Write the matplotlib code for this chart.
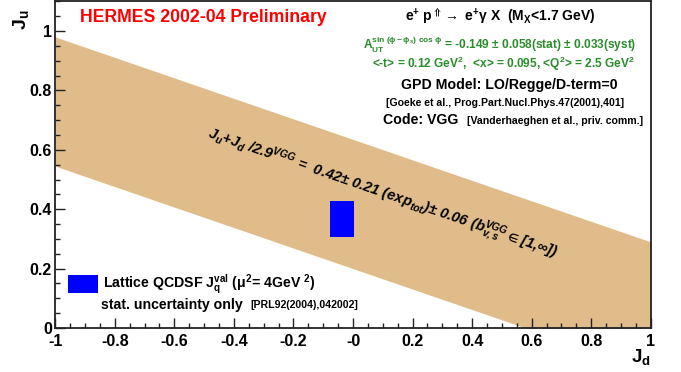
import matplotlib
matplotlib.use('Agg')
import matplotlib.pyplot as plt
from matplotlib.patches import Rectangle
from matplotlib.ticker import FixedLocator, MultipleLocator

plt.rcParams['font.family'] = ['Liberation Sans', 'DejaVu Sans']
plt.rcParams['font.weight'] = 'bold'
plt.rcParams['mathtext.fontset'] = 'custom'
plt.rcParams['mathtext.rm'] = 'Liberation Sans:bold'
plt.rcParams['mathtext.it'] = 'Liberation Sans:italic:bold'
plt.rcParams['mathtext.bf'] = 'Liberation Sans:bold'
plt.rcParams['mathtext.sf'] = 'Liberation Sans:bold'
plt.rcParams['mathtext.default'] = 'regular'

# ---- data ----
band_jd = [-1.0, 1.0]
band_upper = [0.98, 0.29]
band_lower = [0.545, -0.145]

lattice_jd = [-0.077, 0.002]
lattice_ju = [0.307, 0.429]

x_ticks = [-1.0, -0.8, -0.6, -0.4, -0.2, 0.0, 0.2, 0.4, 0.6, 0.8, 1.0]
x_ticklabels = ['-1', '-0.8', '-0.6', '-0.4', '-0.2', '-0', '0.2', '0.4', '0.6', '0.8', '1']
y_ticks = [0.0, 0.2, 0.4, 0.6, 0.8, 1.0]
y_ticklabels = ['0', '0.2', '0.4', '0.6', '0.8', '1']

W, H = 681, 372
AX_L, AX_R, AX_B, AX_T = 55.3, 650.7, 328.0, 1.3

fig = plt.figure(figsize=(W / 100, H / 100), dpi=100)
ax = fig.add_axes([AX_L / W, 1 - AX_B / H, (AX_R - AX_L) / W, (AX_B - AX_T) / H])

ax.fill_between(band_jd, band_lower, band_upper, color='#dfbc89', lw=0)
ax.add_patch(Rectangle((lattice_jd[0], lattice_ju[0]), lattice_jd[1] - lattice_jd[0],
                       lattice_ju[1] - lattice_ju[0], color='blue', lw=0))
ax.set_xlim(-1, 1)
ax.set_ylim(0, 1.1)

ax.xaxis.set_major_locator(FixedLocator(x_ticks))
ax.set_xticklabels(x_ticklabels)
ax.yaxis.set_major_locator(FixedLocator(y_ticks))
ax.set_yticklabels(y_ticklabels)
ax.xaxis.set_minor_locator(MultipleLocator(0.05))
ax.yaxis.set_minor_locator(MultipleLocator(0.05))
ax.tick_params(which='both', direction='in', top=False, right=False, width=1.0, color='#222222')
ax.tick_params(which='major', length=7.2, labelsize=11.5)
ax.tick_params(axis='x', which='major', pad=4)
ax.tick_params(axis='y', which='major', pad=2.5)
ax.tick_params(which='minor', length=3.6)
for lab in ax.get_xticklabels() + ax.get_yticklabels():
    lab.set_fontweight('bold')
for s in ax.spines.values():
    s.set_linewidth(1.3)
    s.set_color('#222222')


def P(px, py):
    return ((px - AX_L) / (AX_R - AX_L), (AX_B - py) / (AX_B - AX_T))


def T(px, py, s, **kw):
    kw.setdefault('transform', ax.transAxes)
    kw.setdefault('va', 'center')
    kw.setdefault('fontweight', 'bold')
    x, y = P(px, py)
    return ax.text(x, y, s, **kw)


T(80, 17, 'HERMES 2002-04 Preliminary', color='red', fontsize=12.7, ha='left')
T(500, 17, r'e$^{+}$ p$^{\Uparrow}$$\rightarrow$ e$^{+}$$\gamma$ X  (M$_{X}$<1.7 GeV)',
  fontsize=10, ha='center')
green = '#2a8c2a'
T(500, 45, r'A$_{UT}^{sin\ (\phi-\phi_{s})\ cos\ \phi}$ = -0.149 $\pm$ 0.058(stat) $\pm$ 0.033(syst)',
  fontsize=8.6, ha='center', color=green)
T(503, 64, r'<-t> = 0.12 GeV$^{2}$,  <x> = 0.095, <Q$^{2}$> = 2.5 GeV$^{2}$',
  fontsize=8.6, ha='center', color=green)
T(509, 85, 'GPD Model: LO/Regge/D-term=0', fontsize=10.2, ha='center')
T(505, 103, '[Goeke et al., Prog.Part.Nucl.Phys.47(2001),401]', fontsize=7.6, ha='center')
T(383, 120, 'Code: VGG', fontsize=10.2, ha='left')
T(467, 121, '[Vanderhaeghen et al., priv. comm.]', fontsize=7.6, ha='left')

T(382, 194, r'J$_{u}$+J$_{d}$ /2.9$^{VGG}$ =  0.42$\pm$ 0.21 (exp$_{tot}$)$\pm$ 0.06 (b$_{v,s}^{VGG}$$\in$[1,$\infty$])',
  fontsize=10.5, fontstyle='italic', ha='center', rotation=-19, rotation_mode='anchor')

# legend
lx0, ly0 = P(68, 293)
lx1, ly1 = P(98, 275)
ax.add_patch(Rectangle((lx0, ly0), lx1 - lx0, ly1 - ly0, transform=ax.transAxes,
                       color='blue', lw=0))
T(103, 284, r'Lattice QCDSF J$_{q}^{val}$ ($\mu^{2}$= 4GeV $^{2}$)', fontsize=10.2, ha='left')
T(101, 305, 'stat. uncertainty only', fontsize=10.2, ha='left')
T(250, 305, '[PRL92(2004),042002]', fontsize=7.6, ha='left')

# axis titles
fig.text(21 / W, 1 - 20 / H, r'J$_{u}$', fontsize=14, fontweight='bold', rotation=90,
         ha='center', va='center')
fig.text(641 / W, 1 - 357 / H, r'J$_{d}$', fontsize=13.5, fontweight='bold',
         ha='center', va='center')

fig.savefig('out.png', dpi=100)
